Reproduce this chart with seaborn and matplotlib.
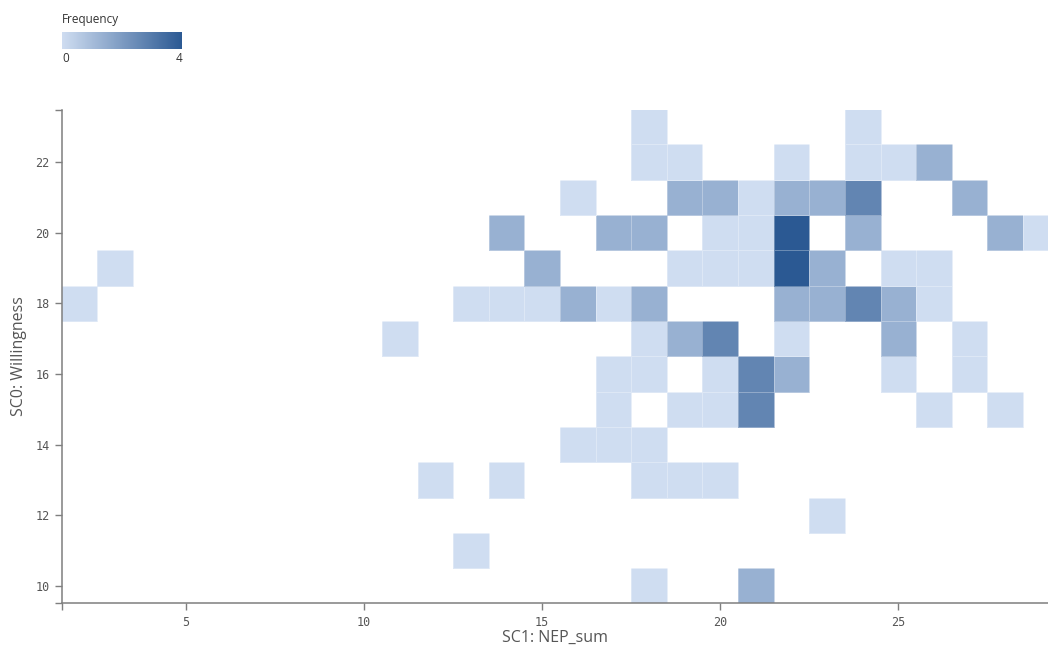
import numpy as np
import pandas as pd
import matplotlib
matplotlib.use("Agg")
import matplotlib.pyplot as plt
from matplotlib.colors import LinearSegmentedColormap, Normalize
from matplotlib.cm import ScalarMappable
import seaborn as sns

# Non-empty cells of the 2D frequency grid: NEP_sum (x), Willingness (y), count
nep_sum = [18, 24,
           18, 19, 22, 24, 25, 26,
           16, 19, 20, 21, 22, 23, 24, 27,
           14, 17, 18, 20, 21, 22, 24, 28, 29,
           3, 15, 19, 20, 21, 22, 23, 25, 26,
           2, 13, 14, 15, 16, 17, 18, 22, 23, 24, 25, 26,
           11, 18, 19, 20, 22, 25, 27,
           17, 18, 20, 21, 22, 25, 27,
           17, 19, 20, 21, 26, 28,
           16, 17, 18,
           12, 14, 18, 19, 20,
           23,
           13,
           18, 21]
willingness = [23] * 2 + [22] * 6 + [21] * 8 + [20] * 9 + [19] * 9 + [18] * 12 \
    + [17] * 7 + [16] * 7 + [15] * 6 + [14] * 3 + [13] * 5 + [12] + [11] + [10] * 2
frequency = [1, 1,
             1, 1, 1, 1, 1, 2,
             1, 2, 2, 1, 2, 2, 3, 2,
             2, 2, 2, 1, 1, 4, 2, 2, 1,
             1, 2, 1, 1, 1, 4, 2, 1, 1,
             1, 1, 1, 1, 2, 1, 2, 2, 2, 3, 2, 1,
             1, 1, 2, 3, 1, 2, 1,
             1, 1, 1, 3, 2, 1, 1,
             1, 1, 1, 3, 1, 1,
             1, 1, 1,
             1, 1, 1, 1, 1,
             1,
             1,
             1, 2]

x_ticks = [5, 10, 15, 20, 25]
y_ticks = [10, 12, 14, 16, 18, 20, 22]

df = pd.DataFrame({"nep": nep_sum, "will": willingness, "freq": frequency})

blues = LinearSegmentedColormap.from_list("freq_blues", ["#cfddf1", "#2b5993"])

sns.set_style("white")
plt.rcParams["font.family"] = ["Open Sans", "DejaVu Sans"]

fig = plt.figure(figsize=(10.48, 6.48), dpi=100)
ax = fig.add_axes([62 / 1048, 1 - 603 / 648, (1048 - 62) / 1048, (603 - 110) / 648])

sns.histplot(data=df, x="nep", y="will", weights="freq", discrete=True,
             cmap=blues, vmin=1, vmax=4, edgecolor=(1, 1, 1, 0.3),
             linewidth=0.5, ax=ax)

xmin, xmax = 1.52, 29.2
ymin, ymax = 9.52, 23.47
ax.set_xlim(xmin, xmax)
ax.set_ylim(ymin, ymax)

axis_grey = "#7f7f7f"
text_grey = "#555555"
for side in ("top", "right"):
    ax.spines[side].set_visible(False)
for side in ("left", "bottom"):
    ax.spines[side].set_color(axis_grey)
    ax.spines[side].set_linewidth(1.1)

ax.set_xticks(x_ticks)
ax.set_yticks(y_ticks)
ax.set_xticks([xmin], minor=True)
ax.set_yticks([ymin, ymax], minor=True)
ax.tick_params(which="both", direction="out", length=5, width=1, color=axis_grey,
               left=True, bottom=True)
ax.tick_params(which="major", labelsize=8.5, labelcolor=text_grey, pad=4)
for lab in ax.get_xticklabels() + ax.get_yticklabels():
    lab.set_fontfamily("DejaVu Sans Mono")

ax.set_xlabel("SC1: NEP_sum", fontsize=11.5, color=text_grey, labelpad=1)
ax.set_ylabel("SC0: Willingness", fontsize=11.5, color=text_grey, labelpad=6)
ax.grid(False)

# Horizontal legend bar for frequency in the top-left corner
cax = fig.add_axes([62 / 1048, 1 - 49 / 648, 120 / 1048, 17 / 648])
cb = fig.colorbar(ScalarMappable(norm=Normalize(0, 4), cmap=blues), cax=cax,
                  orientation="horizontal")
cb.outline.set_visible(False)
cb.set_ticks([])
fig.text(62 / 1048, 1 - 19 / 648, "Frequency", fontsize=8.5, color="#333333",
         va="center", ha="left")
fig.text(62 / 1048, 1 - 59 / 648, "0", fontsize=8.5, color="#333333",
         va="center", ha="left")
fig.text(182 / 1048, 1 - 59 / 648, "4", fontsize=8.5, color="#333333",
         va="center", ha="right")

fig.savefig("out.png", dpi=100)
